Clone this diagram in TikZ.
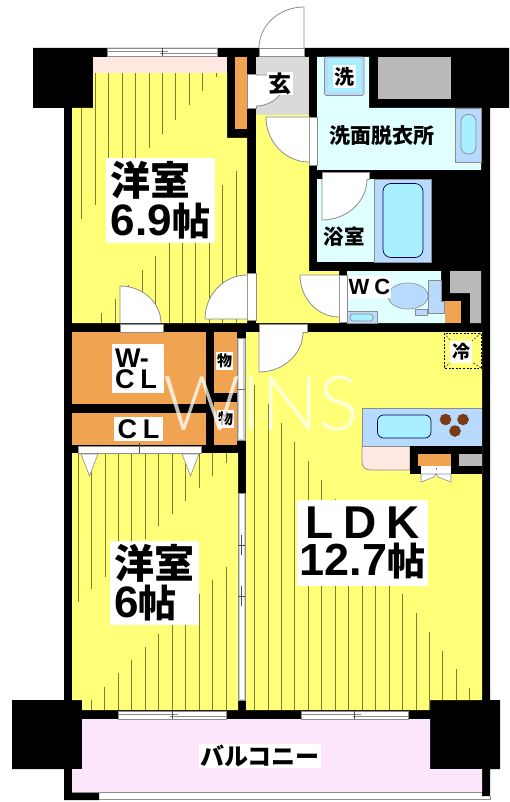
\documentclass[tikz,border=0pt]{standalone}
\usepackage{fontspec}
\setmainfont{Liberation Sans}
\newfontfamily\jpf{Noto Sans CJK JP}
\newfontfamily\wmf{Lato Light}
\usetikzlibrary{calc}
\definecolor{yel}{HTML}{FFFF78}
\definecolor{ora}{HTML}{F0A452}
\definecolor{pnk}{HTML}{FFE8E2}
\definecolor{blu}{HTML}{B8DAFF}
\definecolor{lcy}{HTML}{E0FFFF}
\definecolor{cya}{HTML}{A8F0FF}
\definecolor{gra}{HTML}{BABABA}
\definecolor{lgr}{HTML}{DADADA}
\definecolor{bal}{HTML}{FCE6FC}
\definecolor{oli}{HTML}{7C7C34}
\definecolor{edg}{HTML}{8C8C8C}
\definecolor{brn}{HTML}{7E3A12}
\newcommand\fs[1]{\fontsize{#1}{#1}\selectfont}
\newcommand\swing[3]{\path (#1) coordinate (h) (#2) coordinate (a) (#3) coordinate (b);
 \fill[white] (h)--(a) .. controls ($(a)+.552*(b)-.552*(h)$) and ($(b)+.552*(a)-.552*(h)$) .. (b) -- cycle;
 \draw[doorln] (h)--(a) .. controls ($(a)+.552*(b)-.552*(h)$) and ($(b)+.552*(a)-.552*(h)$) .. (b);}
\tikzset{
 doorln/.style={draw=edg,line width=.8pt},
 sill/.style={fill=white,draw=edg,line width=.6pt},
 hatch/.style={draw=oli,line width=.8pt},
 lab/.style={fill=white,inner sep=0pt,text=black,font=\bfseries},
 plain/.style={inner sep=0pt,text=black,font=\jpf\bfseries},
 fix/.style 2 args={minimum width=#1pt,minimum height=#2pt},
 fixture/.style={fill=blu,draw=edg,line width=.6pt},
 basin/.style={fill=cya,draw=black!70!blue,line width=.7pt},
 burner/.style={circle,fill=brn,inner sep=0pt,minimum size=11pt,draw=brn!80!black,densely dotted,line width=.8pt}
}
\begin{document}
\begin{tikzpicture}[x=1pt,y=-1pt]
\useasboundingbox (0,0) rectangle (509,802);
\fill[white] (0,0) rectangle (509,802);
% structure
\fill[black] (33,48)--(509,48)--(509,108)--(490,108)--(490,700)--(500,700)--(500,769)--(490,769)--(490,796)--(482,796)--(482,792)--(99,792)--(99,800)--(64,800)--(64,769)--(12,769)--(12,700)--(64,700)--(64,108)--(33,108)--cycle;
% rooms
\fill[yel] (93,73)--(227,73)--(227,138)--(247,138)--(247,323)--(72,323)--(72,108)--(93,108)--cycle;
\fill[pnk] (93,57) rectangle (227,73);
\fill[ora] (235,57) rectangle (247,129);
\fill[lgr] (256,57) rectangle (309,115);
\fill[yel] (256,115)--(309,115)--(309,271)--(339,271)--(339,323)--(256,323)--cycle;
\fill[yel] (246,332)--(482,332)--(482,700)--(430,700)--(430,710)--(246,710)--cycle;
\fill[yel] (72,453)--(238,453)--(238,710)--(82,710)--(82,700)--(72,700)--cycle;
\fill[ora] (72,332) rectangle (206,404);
\fill[ora] (72,413) rectangle (206,445);
\fill[ora] (214,332) rectangle (237,393);
\fill[ora] (214,402) rectangle (237,445);
\fill[bal] (82,719)--(430,719)--(430,769)--(482,769)--(482,792)--(72,792)--(72,769)--(82,769)--cycle;
\draw[edg,line width=.8pt] (72,792)--(482,792) (99,799.5)--(490,799.5)--(490,796);
% hatching
\foreach \k in {0,...,10}{\pgfmathsetmacro\xx{81.7+13.45*\k}\pgfmathsetmacro\yy{77+(216-\xx)*1.06}\draw[hatch] (\xx,{max(108*(\xx<93)+73*(\xx>=93),73)}) -- (\xx,\yy);}
\foreach \k in {0,...,10}{\pgfmathsetmacro\xx{101.7+13.45*\k}\pgfmathsetmacro\yy{313-(\xx-101.7)*1.057}\draw[hatch] (\xx,\yy) -- (\xx,323);}
\foreach \k in {0,...,11}{\pgfmathsetmacro\xx{78+13.45*\k}\pgfmathsetmacro\yy{463+(226-\xx)*.94}\draw[hatch] (\xx,453) -- (\xx,\yy);}
\foreach \k in {0,...,10}{\pgfmathsetmacro\xx{91+13.5*\k}\pgfmathsetmacro\yy{700-(\xx-91)*.985}\draw[hatch] (\xx,\yy) -- (\xx,710);}
\foreach \k in {0,...,16}{\pgfmathsetmacro\xx{254.5+13.45*\k}\pgfmathsetmacro\yy{385+(\xx-254.5)*1.41}\draw[hatch] (\xx,\yy) -- (\xx,{\xx>430?700:710});}
% washroom
\fill[lcy] (317,57)--(369,57)--(369,108)--(481,108)--(481,170)--(317,170)--cycle;
\fill[gra] (378,57) rectangle (451,99);
\draw[fill=blu,draw=edg,line width=.6pt,rounded corners=1.5pt] (324.5,57) rectangle (364,95.5);
\fill[cya] (327.5,59) rectangle (361,92.5);
\draw[fixture] (455,108) rectangle (481,162);
\draw[basin,fill=cya,draw=edg,rounded corners=7pt] (461,114.5) rectangle (476,154);
% bath
\fill[lcy] (317,179) rectangle (374,262);
\draw[fixture] (374,179) rectangle (431,262);
\draw[basin,rounded corners=8pt] (383,183.5) rectangle (423,257.5);
% wc
\fill[lcy] (347,271)--(441,271)--(441,301)--(445,301)--(445,323)--(347,323)--cycle;
\draw[fixture] (428,280)--(441,280)--(441,301)--(444,301)--(444,313)--(428,313)--cycle;
\draw[fill=blu,draw=edg,line width=.6pt] (408,296) ellipse [x radius=20pt,y radius=13pt];
\draw[fixture] (415,309) rectangle (427,315);
\draw[fixture] (347,311) rectangle (377,323);
\draw[basin,draw=edg,rounded corners=3pt] (350,314) rectangle (373,321);
\fill[gra] (450,271)--(481,271)--(481,323)--(470,323)--(470,293)--(450,293)--cycle;
\fill[ora] (445,301) rectangle (461,323);
% kitchen
\draw[fill=pnk,draw=edg,line width=.7pt] (362,446)--(362,461) .. controls (362,467) and (365,470) .. (371,470)--(410,470)--(410,446)--cycle;
\draw[fixture] (482,408)--(362,408)--(362,446)--(482,446);
\draw[basin,rounded corners=6pt] (377.5,415) rectangle (431,438);
\node[burner] (b1) at (445.5,419.5) {};
\node[burner] (b2) at (463,419.5) {};
\node[burner] (b3) at (455,431) {};
\fill[black] (410,446) rectangle (482,474);
\fill[ora] (418,454) rectangle (451,466);
\fill[gra] (459,454) rectangle (482,466);
\fill[white] (421,466) rectangle (451,474);
\draw[sill] (421,474)--(421,482)--(434,477)--(436,474)--cycle;
\draw[sill] (451,474)--(451,482)--(438,477)--(436,474)--cycle;
\draw[edg,line width=.5pt] (436,468)--(436,470);
\draw[black,dash pattern=on 2pt off 1.6pt,line width=.8pt] (444,333) rectangle (481,368);
\draw[black!80,dash pattern=on 2pt off 1.6pt,line width=.6pt] (444,333)--(451,341) (481,333)--(472,341) (444,368)--(451,362) (481,368)--(472,362);
% windows and sills
\foreach \xa/\xb in {107/217,118/226,301/408}{
 \pgfmathsetmacro\ya{\xa==107?48:711}
 \pgfmathsetmacro\xm{\xa+(\xb-\xa)*.5}
 \draw[sill] (\xa,\ya) rectangle (\xb,\ya+8);
 \draw[edg,line width=.7pt] (\xa,\ya+3) -- (\xm+6,\ya+3) (\xm-2,\ya+5) -- (\xb,\ya+5);
 \draw[black!70,line width=.5pt] (\xm,\ya) -- (\xm,\ya+8);
}
\draw[sill] (259,48) rectangle (304,56);
\draw[sill] (247,74) rectangle (256,108.5);
\draw[sill] (309,117) rectangle (317,165);
\draw[sill] (322,172) rectangle (369,179);
\draw[sill] (339,275) rectangle (347,322);
\draw[sill] (247,273) rectangle (256,320);
\draw[sill] (120,324) rectangle (163,332);
\draw[sill] (259,324) rectangle (307,332);
\draw[sill] (78,446) rectangle (201,453);
\draw[black!70,line width=.5pt] (139,443)--(139,453);
\draw[fill=gra!70,draw=edg,line width=.5pt] (237.5,338) rectangle (245,440);
\fill[white] (239,339) rectangle (243,439);
\draw[black!60,line width=.5pt] (237,389)--(245,389);
\draw[fill=gra!70,draw=edg,line width=.5pt] (238,493) rectangle (245,700);
\fill[white] (240,494) rectangle (244,699);
\draw[black!70,line width=.5pt] (238,545)--(245,545) (241,535)--(241,555) (238,596)--(245,596) (241,586)--(241,606);
% swing doors
\swing{304,48}{304,7}{259,48}
\swing{256,75}{287,75}{256,106}
\swing{309,117}{266,117}{309,162}
\swing{322,179}{322,220}{367,179}
\swing{339,275}{300,275}{339,317}
\swing{120,323}{120,286}{161,323}
\swing{247,319}{205,319}{247,275}
\swing{259,332}{259,372}{303,332}
\draw[sill] (81,454)--(98,454)--(89.5,476)--cycle;
\draw[sill] (182,454)--(199,454)--(190.5,476)--cycle;
% labels
\node[lab,fix={109}{85},align=left,anchor=center] (r1) at (160.5,200.5) {\jpf\fs{40}洋室\\[3pt]\fs{44}6.9{\jpf\fs{38}帖}};
\node[lab,fix={89}{84},align=left] (r2) at (154.5,583) {\jpf\fs{40}洋室\\[2pt]\fs{44}6{\jpf\fs{38}帖}};
\node[lab,fix={131}{86},align=center] (r3) at (362.5,543) {\fs{46}L\hspace{10pt}D\hspace{10pt}K\\[4pt]\fs{45}12.7{\jpf\fs{38}帖}};
\node[lab,fix={26}{23}] (genkan) at (280,83.5) {\jpf\fs{23}玄};
\node[lab,fix={23}{23}] (wash) at (344.5,76.5) {\jpf\fs{20}洗};
\node[plain] (senmen) at (382,136) {\fs{21}洗面脱衣所};
\node[plain] (yoku) at (344,237) {\fs{20.5}浴室};
\node[lab,fix={43}{22}] (wc) at (369.5,287) {\fs{22}W\hspace{5pt}C};
\node[lab,fix={52}{49},align=left,text width=46pt] (wcl) at (138,368.5) {\fs{27}W-\\[1pt]\fs{27}C\hspace{6pt}L};
\node[lab,fix={49}{24}] (cl) at (138.5,429) {\fs{27}C\hspace{6pt}L};
\node[lab,fix={17}{18}] (m1) at (224.5,361) {\jpf\fs{15}物};
\node[lab,fix={17}{18}] (m2) at (225.5,419) {\jpf\fs{15}物};
\node[lab,fix={22}{22}] (rei) at (461,351.5) {\jpf\fs{18}冷};
\node[lab,fix={122}{24}] (balc) at (260,756) {\jpf\fs{24}バルコニー};
% watermark
\node[inner sep=0pt,text=white,text opacity=.75] (wm) at (261.5,404) {\wmf\fs{76}WINS};
\end{tikzpicture}
\end{document}
